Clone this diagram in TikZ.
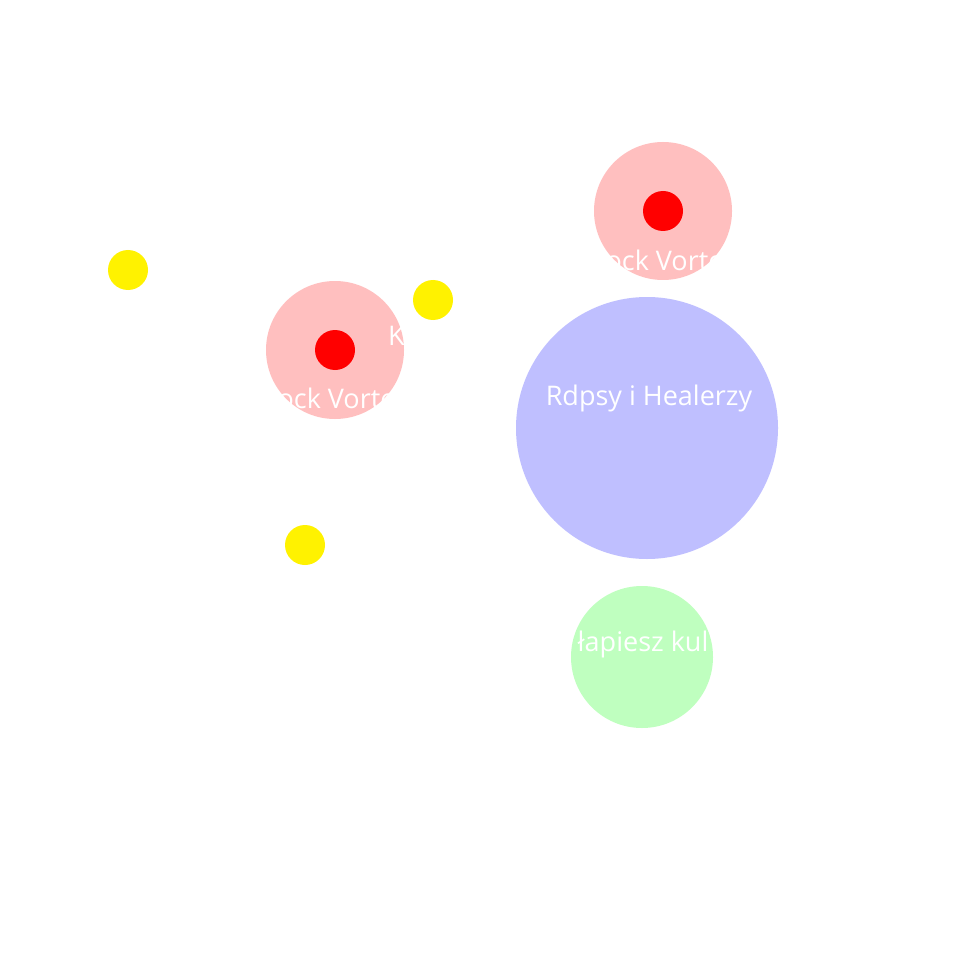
\documentclass[tikz,border=0pt]{standalone}
\usepackage{fontspec}
\setmainfont{Open Sans}
\definecolor{pinkc}{HTML}{FFBFBF}
\definecolor{bluec}{HTML}{BFBFFF}
\definecolor{greenc}{HTML}{BFFFBF}
\tikzset{
  disc/.style={circle,inner sep=0pt,draw=none},
  label/.style={text=white,font=\fontsize{27}{31}\selectfont,inner sep=0pt},
}
\begin{document}
\begin{tikzpicture}[x=1pt,y=-1pt]
\useasboundingbox[fill=white] (0,0) rectangle (965,965);
\node[disc,fill=yellow,minimum size=40pt] (y1) at (128,270) {};
\node[disc,fill=yellow,minimum size=40pt] (y2) at (433,300) {};
\node[disc,fill=yellow,minimum size=40pt] (y3) at (305,545) {};
\node[disc,fill=pinkc,minimum size=138pt] (p1) at (663,211) {};
\node[disc,fill=red,minimum size=40pt] (r1) at (663,211) {};
\node[disc,fill=pinkc,minimum size=138pt] (p2) at (335,350) {};
\node[disc,fill=red,minimum size=40pt] (r2) at (335,350) {};
\node[disc,fill=bluec,minimum size=262pt] (b) at (647,428) {};
\node[disc,fill=greenc,minimum size=142pt] (g) at (642,657) {};
\node[label] (t1) at (663,260) {Rock Vortex};
\node[label] (t2) at (335,398) {Rock Vortex};
\node[label] (t3) at (649,398) {Rdpsy i Healerzy};
\node[label] (t4) at (643,644) {łapiesz kul};
\node[label,anchor=west] (t5) at (388,336) {K};
\end{tikzpicture}
\end{document}
